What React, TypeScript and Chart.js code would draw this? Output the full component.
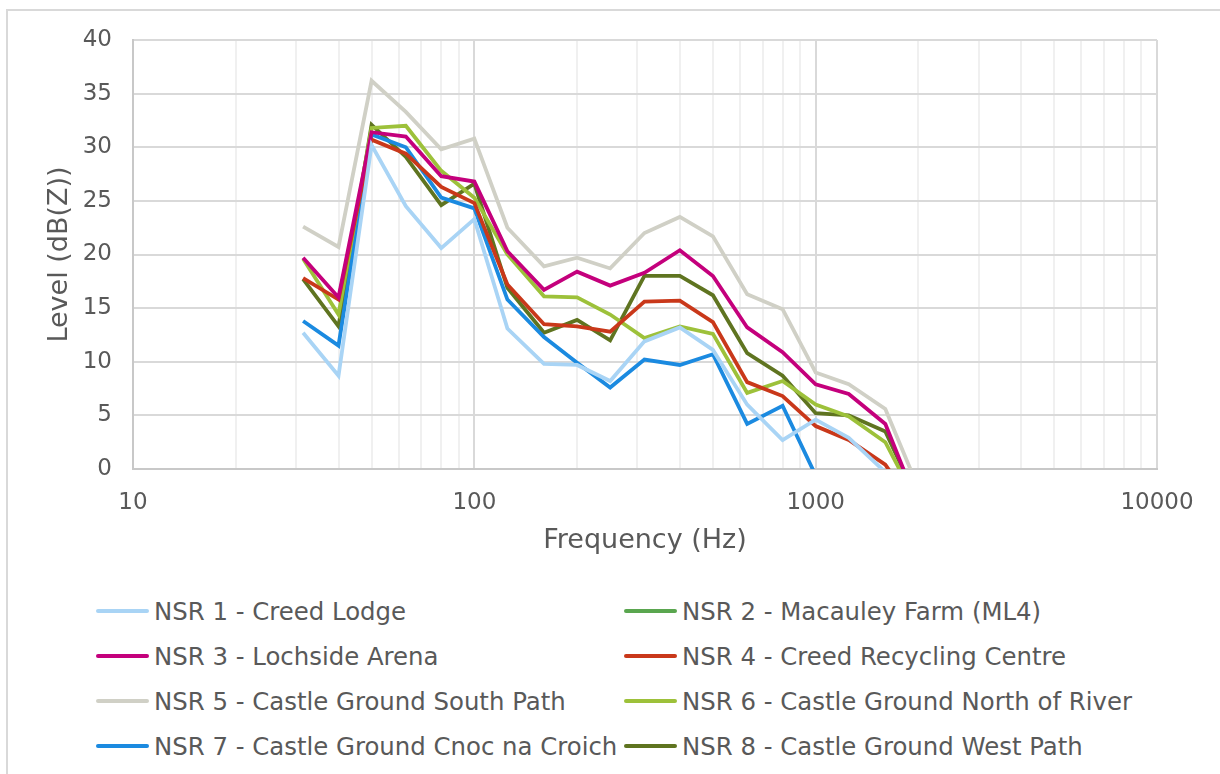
import React, { useEffect, useRef } from "react";
import { Chart, registerables } from "chart.js";

Chart.register(...registerables);

const frequencies = [31.5, 40, 50, 63, 80, 100, 125, 160, 200, 250, 315, 400, 500, 630, 800, 1000, 1250, 1600, 2000];

const nsr1 = [12.7, 8.7, 30.2, 24.5, 20.6, 23.3, 13.1, 9.8, 9.7, 8.2, 11.9, 13.2, 11.1, 6.0, 2.7, 4.6, 2.9, -0.3, -6];
const nsr2: (number | null)[] = [null, null, null, null, null, null, null, null, null, null, null, null, null, null, null, null, null, null, null];
const nsr3 = [19.7, 16.0, 31.4, 31.0, 27.3, 26.8, 20.3, 16.7, 18.4, 17.1, 18.3, 20.4, 18.0, 13.2, 10.9, 7.9, 7.0, 4.2, -3.5];
const nsr4 = [17.8, 15.8, 30.7, 29.4, 26.3, 24.8, 17.2, 13.5, 13.3, 12.8, 15.6, 15.7, 13.7, 8.1, 6.8, 4.0, 2.7, 0.4, -4];
const nsr5 = [22.6, 20.7, 36.2, 33.3, 29.8, 30.8, 22.5, 18.9, 19.7, 18.7, 22.0, 23.5, 21.7, 16.3, 14.9, 9.0, 7.9, 5.6, -1.8];
const nsr6 = [19.6, 14.4, 31.8, 32.0, 27.8, 25.3, 20.0, 16.1, 16.0, 14.4, 12.2, 13.3, 12.6, 7.1, 8.2, 6.0, 4.9, 2.5, -3.4];
const nsr7 = [13.8, 11.5, 31.2, 30.0, 25.3, 24.3, 15.8, 12.3, 9.9, 7.6, 10.2, 9.7, 10.7, 4.2, 5.9, -0.6, -5, -8, -10];
const nsr8 = [17.7, 13.3, 32.1, 29.1, 24.6, 26.6, 16.9, 12.7, 13.9, 12.0, 18.0, 18.0, 16.2, 10.8, 8.7, 5.2, 5.0, 3.5, -3.1];

const seriesNames = [
  "NSR 1 - Creed Lodge",
  "NSR 2 - Macauley Farm (ML4)",
  "NSR 3 - Lochside Arena",
  "NSR 4 - Creed Recycling Centre",
  "NSR 5 - Castle Ground South Path",
  "NSR 6 - Castle Ground North of River",
  "NSR 7 - Castle Ground Cnoc na Croich",
  "NSR 8 - Castle Ground West Path",
];
const seriesValues = [nsr1, nsr2, nsr3, nsr4, nsr5, nsr6, nsr7, nsr8];
const seriesColors = ["#a9d4f5", "#5aa64f", "#c4007c", "#c9381a", "#d0d0c6", "#9dc13a", "#1b8ae0", "#5f7420"];

const yTicks = [0, 5, 10, 15, 20, 25, 30, 35, 40];
const xMajorTicks = [10, 100, 1000, 10000];

const FONT = "'DejaVu Sans', Verdana, sans-serif";
const TEXT = "#595959";

export default function App() {
  const ref = useRef<HTMLCanvasElement | null>(null);

  useEffect(() => {
    if (!ref.current) return;
    const datasets = seriesNames.map((name, i) => ({
      label: name,
      data: frequencies.map((f, j) => ({ x: f, y: seriesValues[i][j] })),
      borderColor: seriesColors[i],
      backgroundColor: seriesColors[i],
      borderWidth: 3.8,
      pointRadius: 0,
      tension: 0,
      fill: false,
      clip: 0,
    }));
    const isMajor = (v: number) => xMajorTicks.some((m) => Math.abs(m - v) < 1e-6);
    const chart = new Chart(ref.current, {
      type: "line",
      data: { datasets },
      options: {
        animation: false,
        responsive: false,
        layout: { padding: { top: 40, right: 63, left: 0, bottom: 0 } },
        plugins: { legend: { display: false }, tooltip: { enabled: false } },
        scales: {
          x: {
            type: "logarithmic",
            min: 10,
            max: 10000,
            afterFit: (s: any) => { s.height = 111; },
            afterBuildTicks: (s: any) => {
              const t: any[] = [];
              for (let d = 10; d < 10000; d *= 10) {
                for (let k = 1; k < 10; k++) t.push({ value: d * k });
              }
              t.push({ value: 10000 });
              s.ticks = t;
            },
            grid: {
              drawTicks: false,
              lineWidth: 2,
              color: (c: any) => (c.tick && isMajor(c.tick.value) ? "#d9d9d9" : "#f0f0f0"),
            },
            border: { display: true, color: "#c8c8c8", width: 2 },
            ticks: {
              autoSkip: false,
              maxRotation: 0,
              padding: 20,
              color: TEXT,
              font: { family: FONT, size: 23 },
              callback: (v: any) => (isMajor(Number(v)) ? String(Number(v)) : ""),
            },
            title: {
              display: true,
              text: "Frequency (Hz)",
              color: TEXT,
              font: { family: FONT, size: 27 },
              padding: { top: 0, bottom: 23 },
            },
          },
          y: {
            type: "linear",
            min: 0,
            max: 40,
            afterFit: (s: any) => { s.width = 133; },
            afterBuildTicks: (s: any) => { s.ticks = yTicks.map((v) => ({ value: v })); },
            grid: { drawTicks: false, lineWidth: 2, color: "#d9d9d9" },
            border: { display: true, color: "#c8c8c8", width: 2 },
            ticks: {
              padding: 21,
              color: TEXT,
              font: { family: FONT, size: 23 },
            },
            title: {
              display: true,
              text: "Level (dB(Z))",
              color: TEXT,
              font: { family: FONT, size: 27 },
              padding: { top: 44, bottom: 0 },
            },
          },
        },
      } as any,
    });
    return () => chart.destroy();
  }, []);

  const rowY = [611, 656, 701, 746];
  const colX = [96, 624];

  return (
    <div style={{ position: "fixed", inset: 0, overflow: "hidden", background: "#fff" }}>
      <div
        style={{
          position: "absolute",
          left: 6,
          top: 9,
          width: 1400,
          height: 900,
          border: "2px solid #d9d9d9",
        }}
      />
      <canvas
        ref={ref}
        width={1220}
        height={580}
        style={{ position: "absolute", left: 0, top: 0, width: 1220, height: 580 }}
      />
      {seriesNames.map((name, i) => (
        <div
          key={name}
          style={{
            position: "absolute",
            left: colX[i % 2],
            top: rowY[Math.floor(i / 2)] - 16,
            height: 32,
            display: "flex",
            alignItems: "center",
            whiteSpace: "nowrap",
            fontFamily: FONT,
            fontSize: 24.4,
            color: TEXT,
          }}
        >
          <span
            style={{
              display: "inline-block",
              width: 53,
              height: 4,
              borderRadius: 2,
              background: seriesColors[i],
              marginRight: 5,
            }}
          />
          <span>{name}</span>
        </div>
      ))}
    </div>
  );
}
